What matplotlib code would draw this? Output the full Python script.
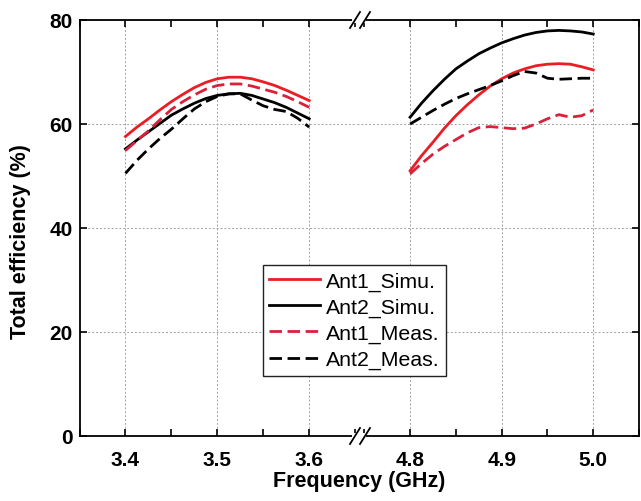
import numpy as np
import matplotlib
matplotlib.use('Agg')
import matplotlib.pyplot as plt
from matplotlib.lines import Line2D
from matplotlib.patches import Rectangle

plt.rcParams['font.family'] = ['Liberation Sans', 'DejaVu Sans']

# low band (GHz)
freq_low = [3.4000, 3.4125, 3.4250, 3.4375, 3.4500, 3.4625, 3.4750, 3.4875, 3.5000,
            3.5125, 3.5250, 3.5375, 3.5500, 3.5625, 3.5750, 3.5875, 3.6000]
ant1_simu_low = [57.6, 59.4, 61.0, 62.7, 64.3, 65.7, 67.0, 68.0, 68.7,
                 69.0, 69.0, 68.7, 68.1, 67.4, 66.5, 65.5, 64.5]
ant2_simu_low = [55.2, 56.9, 58.5, 60.1, 61.7, 62.9, 64.0, 64.9, 65.5,
                 65.8, 65.9, 65.5, 64.8, 64.1, 63.2, 62.1, 61.0]
ant1_meas_low = [54.9, 56.8, 58.7, 60.8, 62.8, 64.3, 65.6, 66.7, 67.4,
                 67.7, 67.7, 67.3, 66.7, 66.1, 65.3, 64.3, 63.2]
ant2_meas_low = [50.5, 53.0, 55.2, 57.2, 59.0, 61.0, 62.9, 64.3, 65.3,
                 65.8, 65.8, 64.6, 63.5, 62.8, 62.4, 61.1, 59.4]

# high band (GHz)
freq_high = [4.8000, 4.8125, 4.8250, 4.8375, 4.8500, 4.8625, 4.8750, 4.8875, 4.9000,
             4.9125, 4.9250, 4.9375, 4.9500, 4.9625, 4.9750, 4.9875, 5.0000]
ant1_simu_high = [51.0, 53.9, 56.5, 59.2, 61.6, 63.7, 65.6, 67.3, 68.7,
                  69.8, 70.6, 71.2, 71.5, 71.6, 71.5, 71.0, 70.4]
ant2_simu_high = [61.3, 64.0, 66.4, 68.6, 70.6, 72.1, 73.5, 74.6, 75.6,
                  76.4, 77.1, 77.6, 77.9, 78.0, 77.9, 77.7, 77.3]
ant1_meas_high = [50.4, 52.4, 54.2, 55.7, 57.0, 58.3, 59.3, 59.5, 59.3,
                  59.1, 59.2, 60.0, 61.0, 61.8, 61.3, 61.6, 62.7]
ant2_meas_high = [60.0, 61.3, 62.6, 63.8, 64.9, 65.8, 66.6, 67.4, 68.3,
                  69.3, 70.1, 69.8, 68.8, 68.6, 68.7, 68.8, 68.8]

red = '#ec1c24'
red_dash = '#d9213c'
dash = (0, (4.5, 2))

W, H = 641, 502
fig = plt.figure(figsize=(W / 100, H / 100), dpi=100)

left, brk, right = 79.5, 357, 639
bottom, top = 437, 21
ax1 = fig.add_axes([left / W, 1 - bottom / H, (brk - left) / W, (bottom - top) / H])
ax2 = fig.add_axes([brk / W, 1 - bottom / H, (right - brk) / W, (bottom - top) / H])

ax1.plot(freq_low, ant1_simu_low, color=red, lw=2, label='Ant1_Simu.')
ax1.plot(freq_low, ant2_simu_low, color='black', lw=2, label='Ant2_Simu.')
ax1.plot(freq_low, ant1_meas_low, color=red_dash, lw=2, linestyle=dash, label='Ant1_Meas.')
ax1.plot(freq_low, ant2_meas_low, color='black', lw=2, linestyle=dash, label='Ant2_Meas.')

ax2.plot(freq_high, ant1_simu_high, color=red, lw=2)
ax2.plot(freq_high, ant2_simu_high, color='black', lw=2)
ax2.plot(freq_high, ant1_meas_high, color=red_dash, lw=2, linestyle=dash)
ax2.plot(freq_high, ant2_meas_high, color='black', lw=2, linestyle=dash)

ax1.set_xlim(3.35, 3.652)
ax2.set_xlim(4.742, 5.049)
ax1.set_xticks([3.4, 3.5, 3.6])
ax2.set_xticks([4.8, 4.9, 5.0])
ax1.set_xticks([3.35, 3.45, 3.55, 3.65], minor=True)
ax2.set_xticks([4.75, 4.85, 4.95, 5.05], minor=True)

for ax in (ax1, ax2):
    ax.set_ylim(0, 80)
    ax.set_yticks([0, 20, 40, 60, 80])
    ax.grid(True, color='#a0a0a0', linestyle=(0, (2, 2)), lw=0.7)
    ax.tick_params(which='both', direction='in', length=5, width=1.2,
                   top=True, labelsize=15, pad=10)
    ax.xaxis.set_major_formatter(plt.FormatStrFormatter('%.1f'))
    for lab in ax.get_xticklabels() + ax.get_yticklabels():
        lab.set_fontweight('bold')
    for s in ax.spines.values():
        s.set_linewidth(1.3)

ax1.spines['right'].set_visible(False)
ax2.spines['left'].set_visible(False)
ax1.tick_params(axis='y', pad=5)
ax2.tick_params(axis='y', left=False, right=True, labelleft=False)

handles, labels = ax1.get_legend_handles_labels()
leg = fig.legend(handles, labels, loc='upper left', bbox_to_anchor=(263 / W, 1 - 266 / H),
                 fontsize=15.3, frameon=True, fancybox=False, framealpha=1,
                 edgecolor='#222222', handlelength=2.4, handletextpad=0.25,
                 labelspacing=0.33, borderpad=0.3, borderaxespad=0)
leg.get_frame().set_linewidth(1.0)

# break marks on the top and bottom spines
def px(x, y):
    return x / W, 1 - y / H

for yb in (top, bottom):
    x0, y0 = px(352, yb + 3)
    x1, y1 = px(366, yb - 3)
    fig.add_artist(Rectangle((x0, y0), x1 - x0, y1 - y0, transform=fig.transFigure,
                             facecolor='white', edgecolor='none', zorder=10))
    for xc in (355, 365):
        xa, ya = px(xc - 5, yb + 8)
        xb, yb2 = px(xc + 5, yb - 8)
        fig.add_artist(Line2D([xa, xb], [ya, yb2], transform=fig.transFigure,
                              color='black', lw=1.3, zorder=11))

fig.text(359.5 / W, 1 - 487 / H, 'Frequency (GHz)', fontsize=15.5, fontweight='bold',
         ha='center', va='baseline')
fig.text(21 / W, 1 - 242 / H, 'Total efficiency (%)', fontsize=15.5, fontweight='bold',
         rotation=90, ha='center', va='center')

plt.savefig('out.png', dpi=100)
